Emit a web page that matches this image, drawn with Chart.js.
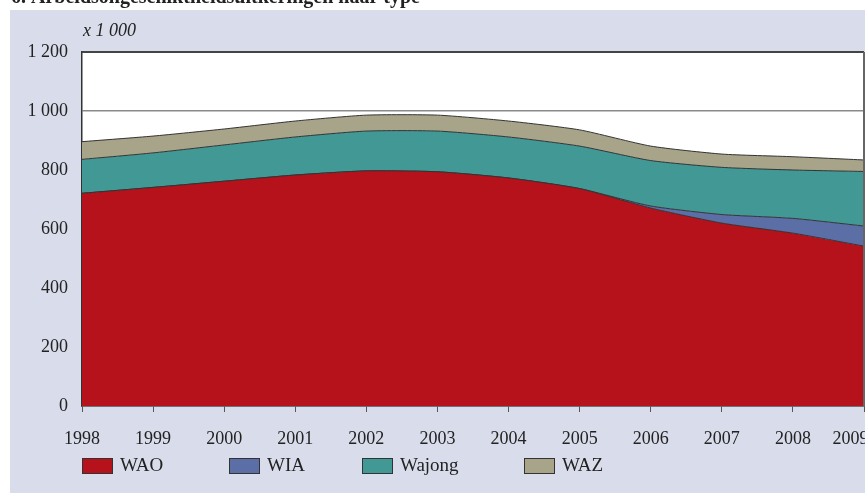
<!DOCTYPE html>
<html>
<head>
<meta charset="utf-8">
<style>
  html, body { margin: 0; padding: 0; background: #fff; }
  #wrap { width: 865px; height: 493px; position: relative; }
</style>
<script src="https://cdn.jsdelivr.net/npm/chart.js@4/dist/chart.umd.min.js"></script>
</head>
<body>
<div id="wrap"><canvas id="chart" width="865" height="493"></canvas></div>
<script>
var years = ['1998', '1999', '2000', '2001', '2002', '2003', '2004', '2005', '2006', '2007', '2008', '2009'];
var wao = [721, 741, 762, 783, 797, 794, 773, 737, 671, 620, 586, 542];
var wia = [0, 0, 0, 0, 0, 0, 0, 0, 7, 29, 50, 68];
var wajong = [115, 117, 123, 129, 135, 138, 139, 144, 154, 160, 164, 185];
var waz = [60, 57, 54, 54, 54, 54, 54, 55, 49, 45, 45, 39];
var yTicks = [0, 200, 400, 600, 800, 1000, 1200];

var title = '6. Arbeidsongeschiktheidsuitkeringen naar type';
var unitLabel = 'x 1 000';
var serif = '"Liberation Serif", "DejaVu Serif", serif';

function fmt(v) {
    return String(v).replace(/\B(?=(\d{3})+(?!\d))/g, ' ');
}

// panel background, title, unit label and white plot area
var backdrop = {
    id: 'backdrop',
    beforeDraw: function(chart) {
        var c = chart.ctx, a = chart.chartArea;
        c.save();
        c.fillStyle = '#fff';
        c.fillRect(0, 0, chart.width, chart.height);
        c.fillStyle = '#d9dcea';
        c.fillRect(10, 10, chart.width - 10, chart.height - 10);
        c.fillStyle = '#fff';
        c.fillRect(a.left, a.top, a.right - a.left, a.bottom - a.top);
        c.fillStyle = '#222';
        c.font = 'bold 20px ' + serif;
        c.textBaseline = 'alphabetic';
        c.fillText(title, 11, 3);
        c.font = 'italic 18px ' + serif;
        c.textBaseline = 'middle';
        c.fillText(unitLabel, a.left + 1, 31);
        c.restore();
    }
};

// frame round the plot and the legend under the axis
var frame = {
    id: 'frame',
    afterDraw: function(chart) {
        var c = chart.ctx, a = chart.chartArea;
        c.save();
        c.strokeStyle = '#444';
        c.lineWidth = 2;
        c.beginPath();
        c.moveTo(a.left, a.top);
        c.lineTo(a.right, a.top);
        c.stroke();
        c.strokeStyle = '#666';
        c.beginPath();
        c.moveTo(a.right, a.top);
        c.lineTo(a.right, a.bottom);
        c.stroke();

        var xs = [82, 229, 362, 524];
        c.font = '19px ' + serif;
        c.textBaseline = 'middle';
        chart.data.datasets.forEach(function(ds, i) {
            c.fillStyle = ds.backgroundColor;
            c.fillRect(xs[i], 458, 30, 15);
            c.strokeStyle = '#333';
            c.lineWidth = 1;
            c.strokeRect(xs[i] + 0.5, 458.5, 30, 15);
            c.fillStyle = '#222';
            c.fillText(ds.label, xs[i] + 38, 466);
        });
        c.restore();
    }
};

function area(label, data, color, fill) {
    return {
        label: label,
        data: data,
        backgroundColor: color,
        borderColor: '#333',
        borderWidth: 1,
        fill: fill,
        pointRadius: 0,
        tension: 0.2
    };
}

new Chart(document.getElementById('chart').getContext('2d'), {
    type: 'line',
    data: {
        labels: years,
        datasets: [
            area('WAO', wao, '#b5121b', 'origin'),
            area('WIA', wia, '#5b6fa6', '-1'),
            area('Wajong', wajong, '#429894', '-1'),
            area('WAZ', waz, '#a8a48a', '-1')
        ]
    },
    options: {
        responsive: false,
        animation: false,
        layout: { padding: { left: 0, top: 52, right: 1, bottom: 0 } },
        plugins: {
            legend: { display: false },
            tooltip: { enabled: false }
        },
        scales: {
            x: {
                offset: false,
                afterFit: function(s) {
                    s.height = 87;
                    s.paddingLeft = 0;
                    s.paddingRight = 0;
                },
                grid: {
                    drawOnChartArea: false,
                    drawTicks: true,
                    tickLength: 6,
                    color: '#555'
                },
                border: { color: '#333', width: 1.5 },
                ticks: {
                    color: '#222',
                    padding: 16,
                    maxRotation: 0,
                    autoSkip: false,
                    font: { family: serif, size: 18 },
                    callback: function(v, i) {
                        var t = years[i];
                        // last label sits a little left of its tick, as in the source
                        return i === years.length - 1 ? t + '\u00a0\u00a0\u00a0\u00a0\u00a0\u00a0' : t;
                    }
                }
            },
            y: {
                stacked: true,
                min: 0,
                max: 1200,
                afterFit: function(s) { s.width = 82; },
                afterBuildTicks: function(s) {
                    s.ticks = yTicks.map(function(v) { return { value: v }; });
                },
                grid: {
                    drawTicks: false,
                    color: '#8a8a8a',
                    lineWidth: 1.5
                },
                border: { color: '#333', width: 1.5 },
                ticks: {
                    color: '#222',
                    padding: 14,
                    font: { family: serif, size: 18 },
                    callback: function(v) { return fmt(v); }
                }
            }
        }
    },
    plugins: [backdrop, frame]
});
</script>
</body>
</html>
